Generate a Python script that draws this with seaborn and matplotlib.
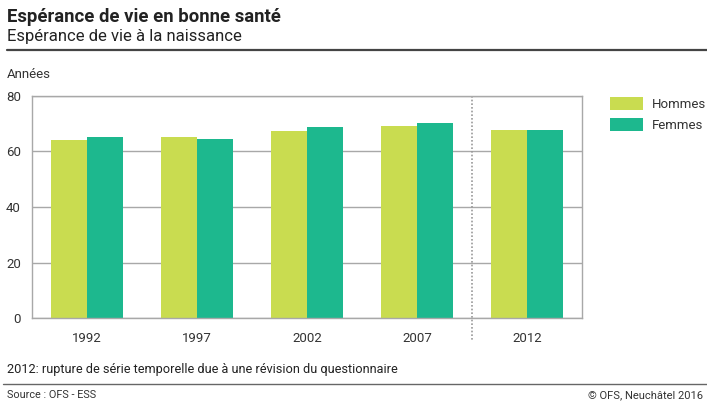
"""
Espérance de vie en bonne santé - graphique OFS
"""
import matplotlib
matplotlib.use('Agg')
import matplotlib.pyplot as plt
import pandas as pd
import seaborn as sns

sns.set_style('white')
plt.rcParams['font.family'] = ['Roboto', 'DejaVu Sans']

# données
annees = ['1992', '1997', '2002', '2007', '2012']
hommes = [64.0, 65.1, 67.5, 69.3, 67.7]
femmes = [65.3, 64.6, 68.7, 70.3, 67.9]
series = ['Hommes', 'Femmes']
couleurs = ['#c9dc50', '#1db88e']

df = pd.DataFrame({
    'annee': annees * 2,
    'valeur': hommes + femmes,
    'sexe': [series[0]] * len(annees) + [series[1]] * len(annees),
})

W, H = 707, 407
fig = plt.figure(figsize=(W / 100, H / 100), dpi=100)
ax = fig.add_axes([32 / W, (H - 318) / H, 550 / W, 222 / H])

sns.barplot(data=df, x='annee', y='valeur', hue='sexe', order=annees,
            hue_order=series, palette=couleurs, width=0.66, gap=0,
            linewidth=0, saturation=1, ax=ax)

ax.set_ylim(0, 80)
ax.set_xlim(-0.5, len(annees) - 0.5)
ax.set_yticks([0, 20, 40, 60, 80])
ax.set_xlabel('')
ax.set_ylabel('')
ax.grid(True, axis='y', color='#a8a8a8', linewidth=1)
ax.set_axisbelow(True)
for s in ax.spines.values():
    s.set_color('#a8a8a8')
    s.set_linewidth(1)
ax.tick_params(axis='y', length=5, color='#a8a8a8', width=1, pad=3,
               labelsize=9.5, labelcolor='#333333')
ax.tick_params(axis='x', length=0, pad=10, labelsize=9.5, labelcolor='#333333')

# rupture de série
ax.plot([3.5, 3.5], [1, -0.105], transform=ax.get_xaxis_transform(),
        color='#999999', linestyle=(0, (1, 1.2)), linewidth=1.2, clip_on=False)

# légende
leg = ax.legend(loc='upper left', bbox_to_anchor=(610 / W, 1 - 97 / H),
                bbox_transform=fig.transFigure, frameon=False, fontsize=9.5,
                handlelength=2.5, handleheight=1.15, handletextpad=0.65,
                labelspacing=0.55, borderaxespad=0, borderpad=0)
for t in leg.get_texts():
    t.set_color('#333333')

# textes
fig.text(7 / W, 1 - 17 / H, 'Espérance de vie en bonne santé', fontsize=13.3,
         fontweight='bold', color='#222222', va='center', ha='left')
fig.text(7 / W, 1 - 37 / H, 'Espérance de vie à la naissance', fontsize=12,
         color='#222222', va='center', ha='left')
fig.add_artist(plt.Line2D([7 / W, 1], [1 - 50 / H, 1 - 50 / H],
                          transform=fig.transFigure, color='#444444', linewidth=1.6))
fig.text(7 / W, 1 - 75 / H, 'Années', fontsize=9.5, color='#333333',
         va='center', ha='left')
fig.text(7 / W, 1 - 369 / H,
         '2012: rupture de série temporelle due à une révision du questionnaire',
         fontsize=9.2, color='#222222', va='center', ha='left')
fig.add_artist(plt.Line2D([3 / W, 1], [1 - 384 / H, 1 - 384 / H],
                          transform=fig.transFigure, color='#666666', linewidth=1))
fig.text(7 / W, 1 - 395 / H, 'Source : OFS - ESS', fontsize=7.8, color='#333333',
         va='center', ha='left')
fig.text(703 / W, 1 - 395 / H, '© OFS, Neuchâtel 2016', fontsize=8,
         color='#333333', va='center', ha='right')

fig.savefig('out.png', dpi=100)
